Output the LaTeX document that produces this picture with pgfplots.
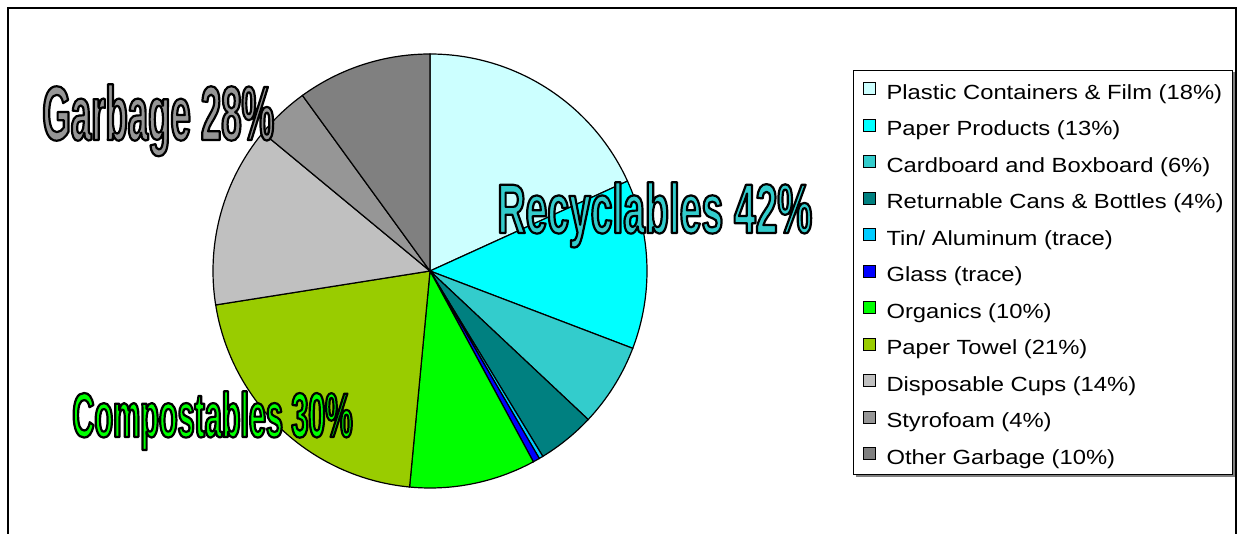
\documentclass[border=0pt]{standalone}
\usepackage{fontspec}
\setmainfont{Liberation Sans}
\newfontfamily\legfont[FakeStretch=1.16]{Liberation Sans}
\newfontfamily\recfont[FakeStretch=0.558]{Liberation Sans}
\newfontfamily\garfont[FakeStretch=0.475]{Liberation Sans}
\newfontfamily\comfont[FakeStretch=0.485]{Liberation Sans}
\usepackage{pgfplots}
\pgfplotsset{compat=1.18}
\definecolor{cPlastic}{HTML}{CCFFFF}
\definecolor{cPaper}{HTML}{00FFFF}
\definecolor{cCard}{HTML}{33CCCC}
\definecolor{cReturn}{HTML}{008080}
\definecolor{cTin}{HTML}{00CCFF}
\definecolor{cGlass}{HTML}{0000FF}
\definecolor{cOrganic}{HTML}{00FF00}
\definecolor{cTowel}{HTML}{99CC00}
\definecolor{cCups}{HTML}{C0C0C0}
\definecolor{cStyro}{HTML}{969696}
\definecolor{cOther}{HTML}{808080}
% filled text with a black outline (text render mode 2: fill, then stroke)
\newcommand{\outl}[1]{\special{pdf:literal direct 2 Tr 0 G 1.1 w 1 j}#1\special{pdf:literal direct 0 Tr 0.4 w 0 j}}
\begin{document}
\begin{tikzpicture}
\clip (0,0) rectangle (619pt,267pt);
\begin{axis}[
  scale only axis, width=619pt, height=267pt,
  xmin=0, xmax=1238, ymin=0, ymax=534,
  hide axis, clip=false,
  legend cell align=left,
  legend image code/.code={\draw[#1, draw=black, line width=0.5pt] (0pt,-2.5pt) rectangle (6pt,3.5pt);},
  legend style={
    at={(axis cs:853,464)}, anchor=north west,
    draw=black, line width=0.5pt, fill=white,
    font=\legfont\fontsize{10.25}{12}\selectfont,
    inner xsep=4.5pt, inner ysep=4.5pt,
    row sep=7.75pt, column sep=5.5pt,
    nodes={inner sep=0pt, text height=10pt, text depth=0.5pt},
  },
]
% slices: domain = cumulative percentage (start:end), clockwise from 12 o'clock
\addplot[fill=cPlastic, draw=black, line width=0.6pt, domain=0:18.2, samples=60] ({430+217*sin(3.6*x)},{263+217*cos(3.6*x)}) -- (axis cs:430,263) -- cycle;
\addlegendentry{Plastic Containers \& Film (18\%)}
\addplot[fill=cPaper, draw=black, line width=0.6pt, domain=18.2:30.8, samples=50] ({430+217*sin(3.6*x)},{263+217*cos(3.6*x)}) -- (axis cs:430,263) -- cycle;
\addlegendentry{Paper Products (13\%)}
\addplot[fill=cCard, draw=black, line width=0.6pt, domain=30.8:37.0, samples=30] ({430+217*sin(3.6*x)},{263+217*cos(3.6*x)}) -- (axis cs:430,263) -- cycle;
\addlegendentry{Cardboard and Boxboard (6\%)}
\addplot[fill=cReturn, draw=black, line width=0.6pt, domain=37.0:41.3, samples=25] ({430+217*sin(3.6*x)},{263+217*cos(3.6*x)}) -- (axis cs:430,263) -- cycle;
\addlegendentry{Returnable Cans \& Bottles (4\%)}
\addplot[fill=cTin, draw=black, line width=0.6pt, domain=41.3:41.6, samples=5] ({430+217*sin(3.6*x)},{263+217*cos(3.6*x)}) -- (axis cs:430,263) -- cycle;
\addlegendentry{Tin/ Aluminum (trace)}
\addplot[fill=cGlass, draw=black, line width=0.6pt, domain=41.6:42.1, samples=5] ({430+217*sin(3.6*x)},{263+217*cos(3.6*x)}) -- (axis cs:430,263) -- cycle;
\addlegendentry{Glass (trace)}
\addplot[fill=cOrganic, draw=black, line width=0.6pt, domain=42.1:51.5, samples=40] ({430+217*sin(3.6*x)},{263+217*cos(3.6*x)}) -- (axis cs:430,263) -- cycle;
\addlegendentry{Organics (10\%)}
\addplot[fill=cTowel, draw=black, line width=0.6pt, domain=51.5:72.5, samples=60] ({430+217*sin(3.6*x)},{263+217*cos(3.6*x)}) -- (axis cs:430,263) -- cycle;
\addlegendentry{Paper Towel (21\%)}
\addplot[fill=cCups, draw=black, line width=0.6pt, domain=72.5:86.0, samples=50] ({430+217*sin(3.6*x)},{263+217*cos(3.6*x)}) -- (axis cs:430,263) -- cycle;
\addlegendentry{Disposable Cups (14\%)}
\addplot[fill=cStyro, draw=black, line width=0.6pt, domain=86.0:90.0, samples=25] ({430+217*sin(3.6*x)},{263+217*cos(3.6*x)}) -- (axis cs:430,263) -- cycle;
\addlegendentry{Styrofoam (4\%)}
\addplot[fill=cOther, draw=black, line width=0.6pt, domain=90.0:100, samples=40] ({430+217*sin(3.6*x)},{263+217*cos(3.6*x)}) -- (axis cs:430,263) -- cycle;
\addlegendentry{Other Garbage (10\%)}
% outer frame
\draw[line width=0.75pt] (axis cs:8,-10) -- (axis cs:8,526) -- (axis cs:1236,526) -- (axis cs:1236,-10);
% legend box shadow
\draw[gray, line width=0.9pt] (axis cs:1234,462) -- (axis cs:1234,58) -- (axis cs:856,58);
% category labels
\node[anchor=base west, inner sep=0pt, text=cCard] at (axis cs:497,301) {\recfont\bfseries\fontsize{35}{35}\selectfont\outl{Recyclables 42\%}};
\node[anchor=base west, inner sep=0pt, text=cStyro] at (axis cs:42,394) {\garfont\bfseries\fontsize{38.5}{38.5}\selectfont\outl{Garbage 28\%}};
\node[anchor=base west, inner sep=0pt, text=cOrganic] at (axis cs:72,97) {\comfont\bfseries\fontsize{31.5}{31.5}\selectfont\outl{Compostables 30\%}};
\end{axis}
\end{tikzpicture}
\end{document}
